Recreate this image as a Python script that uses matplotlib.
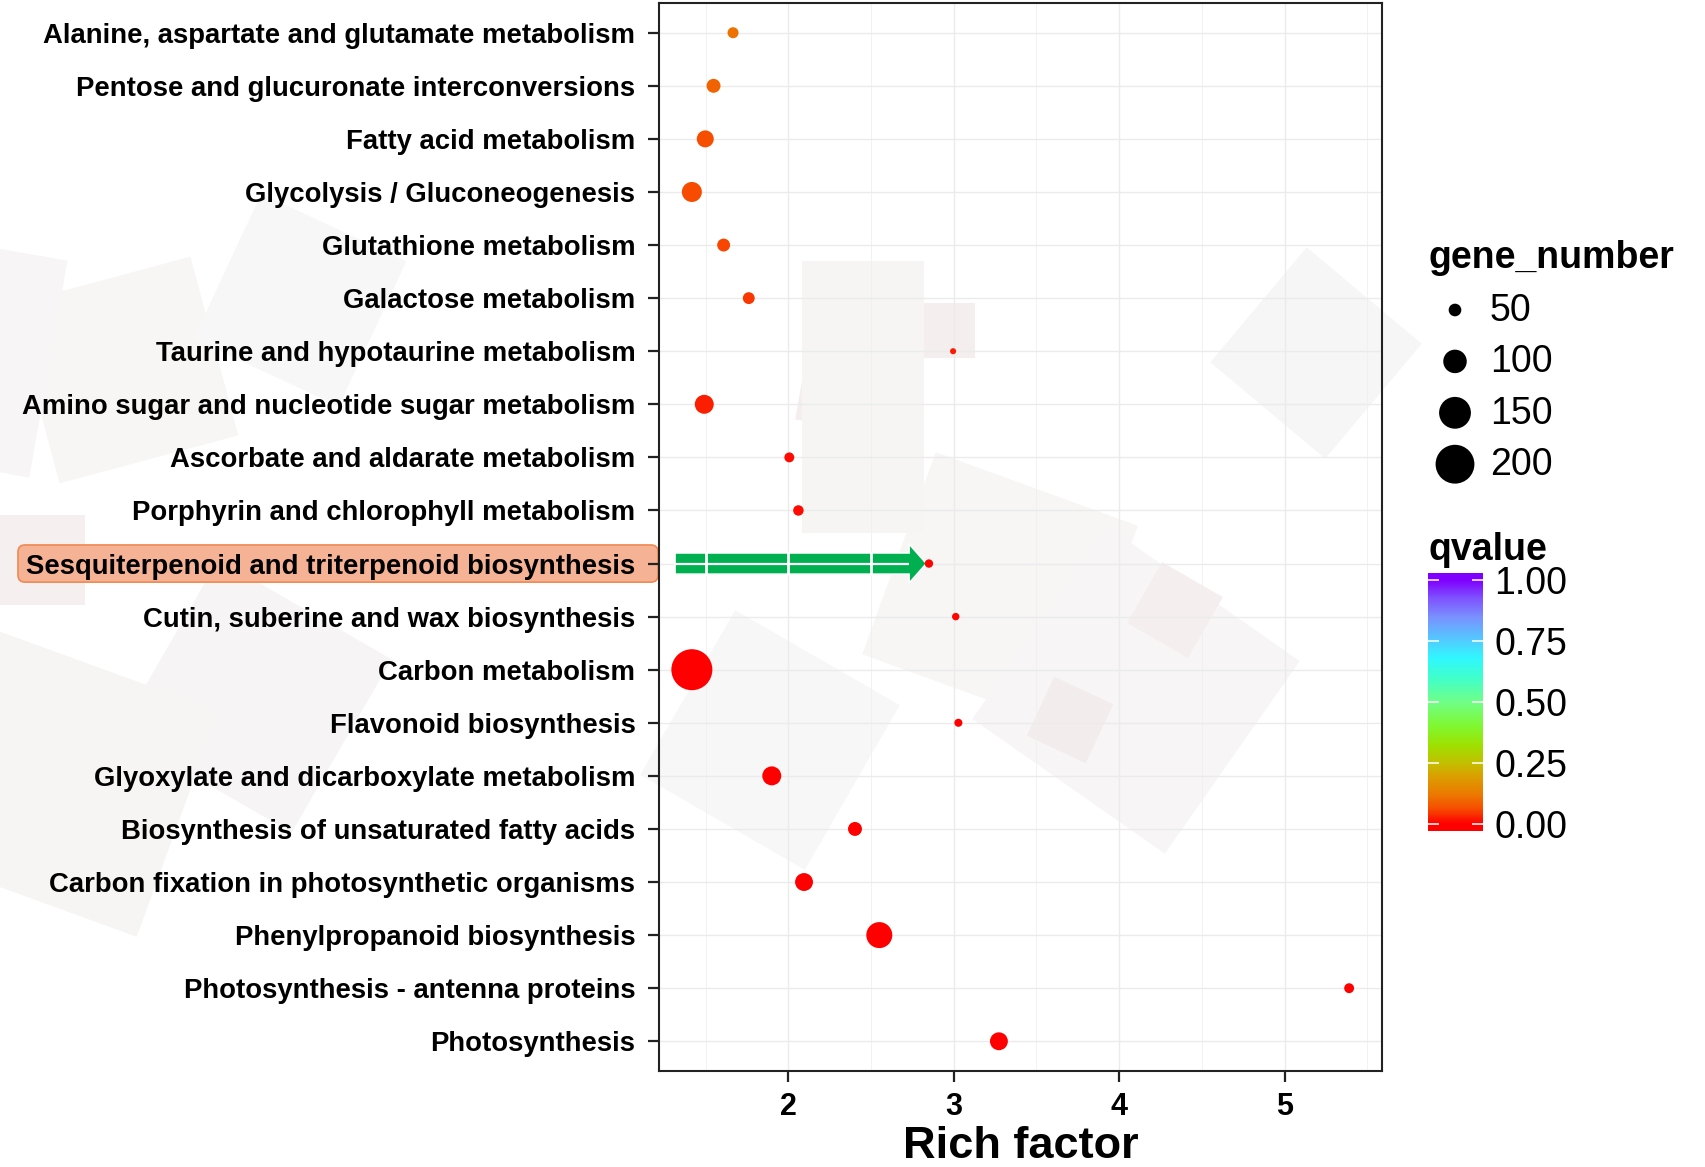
import numpy as np
import matplotlib
matplotlib.use("Agg")
import matplotlib.pyplot as plt
from matplotlib.colors import LinearSegmentedColormap
from matplotlib.patches import FancyBboxPatch, FancyArrow, Polygon
from matplotlib.transforms import IdentityTransform

plt.rcParams['font.family'] = ['Liberation Sans', 'DejaVu Sans']

# KEGG enrichment, top to bottom
pathways = [
    "Alanine, aspartate and glutamate metabolism",
    "Pentose and glucuronate interconversions",
    "Fatty acid metabolism",
    "Glycolysis / Gluconeogenesis",
    "Glutathione metabolism",
    "Galactose metabolism",
    "Taurine and hypotaurine metabolism",
    "Amino sugar and nucleotide sugar metabolism",
    "Ascorbate and aldarate metabolism",
    "Porphyrin and chlorophyll metabolism",
    "Sesquiterpenoid and triterpenoid biosynthesis",
    "Cutin, suberine and wax biosynthesis",
    "Carbon metabolism",
    "Flavonoid biosynthesis",
    "Glyoxylate and dicarboxylate metabolism",
    "Biosynthesis of unsaturated fatty acids",
    "Carbon fixation in photosynthetic organisms",
    "Phenylpropanoid biosynthesis",
    "Photosynthesis - antenna proteins",
    "Photosynthesis",
]
rich_factor = [1.666, 1.548, 1.498, 1.417, 1.609, 1.761, 2.996, 1.492, 2.006, 2.061,
               2.850, 3.012, 1.417, 3.028, 1.900, 2.403, 2.095, 2.550, 5.390, 3.273]
gene_number = [44, 55, 68, 82, 51, 47, 28, 77, 40, 42,
               35, 32, 217, 34, 77, 55, 72, 114, 40, 72]
qvalue = [0.11, 0.09, 0.065, 0.06, 0.055, 0.045, 0.02, 0.025, 0.008, 0.008,
          0.005, 0.005, 0.001, 0.003, 0.001, 0.001, 0.001, 0.0005, 0.0001, 0.0001]

size_breaks = [50, 100, 150, 200]
q_breaks = [0.0, 0.25, 0.5, 0.75, 1.0]
highlight = "Sesquiterpenoid and triterpenoid biosynthesis"

W, H = 1705, 1167


def dot_size(v):
    # diameter in px -> scatter area in pt^2
    d = 3.7 * np.sqrt(np.asarray(v, float)) - 13.5
    return (d * 0.72) ** 2


cmap = LinearSegmentedColormap.from_list("rb", [
    (0.00, "#ff0000"), (0.06, "#f74c00"), (0.12, "#ec7a00"), (0.20, "#d9a200"),
    (0.25, "#c2c000"), (0.32, "#a0e000"), (0.40, "#80f830"), (0.50, "#70ff88"),
    (0.60, "#40ffcc"), (0.68, "#30f8ff"), (0.76, "#55c8ff"), (0.85, "#7a90ff"),
    (0.93, "#8050ff"), (1.00, "#7f00ff")])

fig = plt.figure(figsize=(W / 100, H / 100), dpi=100)

# faint watermark squares in the background: (cx, cy, size, angle, colour)
shapes = [
    (125, 370, 185, -15, "#f7f6f5"), (-60, 350, 220, 10, "#f7f5f5"),
    (255, 696, 200, 30, "#f6f4f4"), (65, 783, 240, 20, "#f6f5f4"),
    (1000, 590, 215, 20, "#f7f6f5"), (1136, 690, 235, 35, "#f7f5f5"),
    (1316, 353, 150, 40, "#f7f6f6"), (770, 740, 190, 30, "#f8f7f7"),
    (300, 300, 160, 25, "#f8f7f7"), (40, 560, 90, 0, "#f5efef"),
    (830, 395, 60, 10, "#f4eeee"), (947, 330, 55, 0, "#f4eeee"),
    (1070, 720, 65, 25, "#f3ecec"), (1175, 610, 70, 30, "#f4eeee"),
]
for cx, cy, s, ang, col in shapes:
    t = np.deg2rad(ang + np.array([45, 135, 225, 315]))
    r = s / np.sqrt(2)
    pts = np.c_[cx + r * np.cos(t), H - (cy + r * np.sin(t))]
    fig.patches.append(Polygon(pts, closed=True, fc=col, ec="none",
                               transform=IdentityTransform(), zorder=-3))
fig.patches.append(Polygon([(802, H - 261), (924, H - 261), (924, H - 533), (802, H - 533)],
                           closed=True, fc="#f6f5f4", ec="none",
                           transform=IdentityTransform(), zorder=-3))

ax_l, ax_r, ax_t, ax_b = 659, 1382, 3, 1071
ax = fig.add_axes([ax_l / W, 1 - ax_b / H, (ax_r - ax_l) / W, (ax_b - ax_t) / H])
ax.patch.set_alpha(0)

y = np.arange(len(pathways))
xmin, xmax = min(rich_factor), max(rich_factor)
pad = 0.05 * (xmax - xmin)
ax.set_xlim(xmin - pad, xmax + pad)
ax.set_ylim(len(pathways) - 0.44, -0.56)

ax.set_xticks([2, 3, 4, 5])
ax.set_xticks([1.5, 2.5, 3.5, 4.5, 5.5], minor=True)
ax.set_yticks(y)
ax.set_yticklabels(pathways, fontsize=19.8, fontweight="bold")
for lab in ax.get_xticklabels():
    lab.set_fontsize(22)
    lab.set_fontweight("bold")
ax.tick_params(axis="y", length=8, width=1.6, color="#222222", pad=9)
ax.tick_params(axis="x", which="major", length=8, width=1.6, color="#222222", pad=7)
ax.tick_params(axis="x", which="minor", length=0)
ax.grid(True, which="major", color="#ebebeb", lw=1.0)
ax.grid(True, which="minor", axis="x", color="#f0f0f0", lw=0.6)
ax.set_axisbelow(True)
for sp in ax.spines.values():
    sp.set_linewidth(1.5)
    sp.set_color("#222222")
ax.set_xlabel("Rich factor", fontsize=32.5, fontweight="bold", labelpad=3)

# green arrow pointing at the highlighted pathway
hi = pathways.index(highlight)
x0, tip, hl = 1.315, 2.835, 0.105
ax.add_patch(FancyArrow(x0, hi, tip - x0, 0, width=0.40, head_width=0.74, head_length=hl,
                        length_includes_head=True, fc="#00b050", ec="white", lw=1.2, zorder=3))
ax.hlines(hi, x0, tip - hl, color="white", lw=1.6, zorder=4)
ax.vlines([1.5, 2.0, 2.5], hi - 0.21, hi + 0.21, color="white", lw=2.0, zorder=4)

ax.scatter(rich_factor, y, s=dot_size(gene_number), c=qvalue, cmap=cmap, vmin=0, vmax=1,
           linewidths=0, zorder=5)

# orange box behind the highlighted label
yb = ax.transData.transform([(xmin, hi - 0.35), (xmin, hi + 0.35)])[:, 1]
ybot, ytop = min(yb), max(yb)
fig.patches.append(FancyBboxPatch((18, ybot), ax_l - 1 - 18, ytop - ybot,
                                  boxstyle="round,pad=0,rounding_size=7",
                                  fc="#f6b294", ec="#ee8a52", lw=1.2,
                                  transform=IdentityTransform(), zorder=-1))

# size legend
fig.text(1428 / W, 1 - 258 / H, "gene_number", fontsize=27, fontweight="bold",
         ha="left", va="center")
lax = fig.add_axes([1420 / W, 1 - 490 / H, 280 / W, 210 / H])
lax.set_xlim(1420, 1700)
lax.set_ylim(490, 280)
lax.axis("off")
rows = 310 + 51.4 * np.arange(len(size_breaks))
lax.scatter([1455] * len(size_breaks), rows, s=dot_size(size_breaks), c="black", linewidths=0)
for r, b in zip(rows, size_breaks):
    lax.text(1490, r + 1, str(b), fontsize=27, ha="left", va="center")

# colour bar
fig.text(1428 / W, 1 - 550 / H, "qvalue", fontsize=27, fontweight="bold",
         ha="left", va="center")
cax = fig.add_axes([1428 / W, 1 - 831 / H, 55 / W, 258 / H])
ext = 0.027
grad = np.linspace(-ext, 1 + ext, 300).reshape(-1, 1)
cax.imshow(grad, cmap=cmap, vmin=0, vmax=1, aspect="auto", origin="lower",
           extent=[0, 1, -ext, 1 + ext])
cax.set_xlim(0, 1)
cax.set_ylim(-ext, 1 + ext)
cax.hlines(q_breaks, 0, 0.2, color="white", lw=1.3, alpha=0.85)
cax.hlines(q_breaks, 0.8, 1, color="white", lw=1.3, alpha=0.85)
cax.set_xticks([])
cax.set_yticks(q_breaks)
cax.set_yticklabels([f"{q:.2f}" for q in q_breaks], fontsize=27)
cax.yaxis.tick_right()
cax.tick_params(axis="y", length=0, pad=8)
for sp in cax.spines.values():
    sp.set_visible(False)

fig.savefig("out.png", dpi=100)
